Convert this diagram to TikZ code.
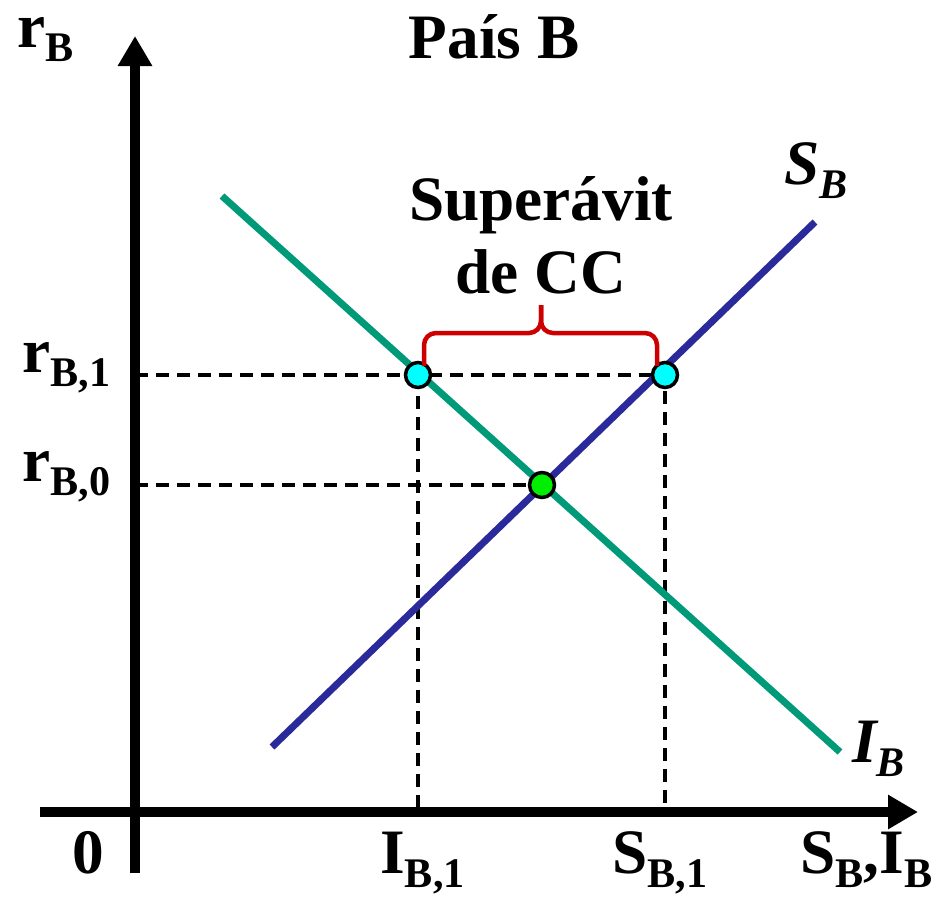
\documentclass[tikz,border=0pt]{standalone}
\usepackage{fontspec}
\setmainfont{Liberation Serif}
\usepackage{tikz}
\usetikzlibrary{arrows.meta}
\definecolor{ISGreen}{HTML}{009A78}
\definecolor{SBlue}{HTML}{2A2A9A}
\definecolor{BraceRed}{HTML}{CC0000}
\definecolor{PtCyan}{HTML}{00FFFF}
\definecolor{PtGreen}{HTML}{00EE00}
\newcommand{\lowsub}[1]{\raisebox{-8.5pt}{\fontsize{24}{24}\selectfont #1}}

\begin{document}
\begin{tikzpicture}[x=0.2mm,y=-0.2mm]
  \tikzstyle{axis}=[line width=2mm,-{Triangle[width=6.5mm,length=6mm]}]
  \tikzstyle{guide}=[line width=0.9mm,dash pattern=on 2.6mm off 1.6mm]
  \tikzstyle{curve}=[line width=1.4mm]
  \tikzstyle{pt}=[circle,draw=black,line width=0.7mm,minimum size=5mm,inner sep=0pt]
  \tikzstyle{lbl}=[inner sep=0pt,font=\fontsize{36}{40}\selectfont\bfseries]
  \useasboundingbox (0,0) rectangle (941,900);
  \coordinate (O) at (135,812);
  % axes
  \draw[axis] (40,812) -- (918,812);
  \draw[axis] (135,873) -- (135,36);
  % points
  \coordinate (e0) at (542,485);
  \coordinate (e1) at (418,375);
  \coordinate (e2) at (665,375);
  % guide lines
  \draw[guide] (O |- e2) -- (e2) -- (e2 |- O);
  \draw[guide] (O |- e0) -- (e0);
  \draw[guide] (e1) -- (e1 |- O);
  % schedules
  \draw[curve,color=ISGreen] (222,196) -- (840,752);
  \draw[curve,color=SBlue] (272,747) -- (815,222);
  \node[pt,fill=PtGreen] (p0) at (e0) {};
  \node[pt,fill=PtCyan] (p1) at (e1) {};
  \node[pt,fill=PtCyan] (p2) at (e2) {};
  % brace
  \draw[line width=0.9mm,color=BraceRed,rounded corners=2.4mm]
    (424,366) -- (424,333) -- (541,333) -- (541,305);
  \draw[line width=0.9mm,color=BraceRed,rounded corners=2.4mm]
    (657,366) -- (657,333) -- (541,333) -- (541,305);
  % labels
  \node[lbl,anchor=base west] (rb) at (17,47) {r\lowsub{B}};
  \node[lbl,anchor=base] (title) at (494,58) {País B};
  \node[lbl,anchor=base] (sup) at (541,220) {Superávit};
  \node[lbl,anchor=base] (cc) at (541,293) {de CC};
  \node[lbl,anchor=base west] (rb1) at (22,372) {r\lowsub{B,1}};
  \node[lbl,anchor=base west] (rb0) at (22,481) {r\lowsub{B,0}};
  \node[lbl,anchor=base] (zero) at (88,873) {0};
  \node[lbl,anchor=base west] (ib1) at (380,873) {I\lowsub{B,1}};
  \node[lbl,anchor=base west] (sb1) at (612,873) {S\lowsub{B,1}};
  \node[lbl,anchor=base west] (axlbl) at (800,873) {S\lowsub{B},I\lowsub{B}};
  \node[lbl,anchor=base west] (slbl) at (784,184) {\itshape S\lowsub{\itshape B}};
  \node[lbl,anchor=base west] (ilbl) at (852,762) {\itshape I\lowsub{\itshape B}};
\end{tikzpicture}
\end{document}
